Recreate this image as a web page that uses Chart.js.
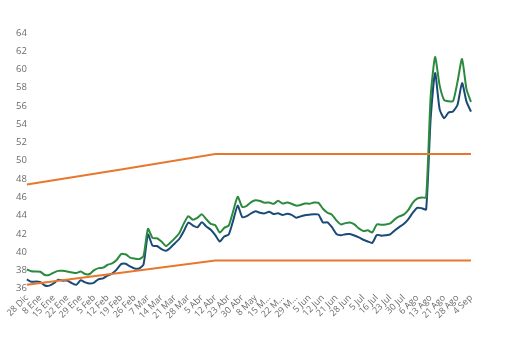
<!DOCTYPE html>
<html>
<head>
<meta charset="utf-8">
<script src="https://cdn.jsdelivr.net/npm/chart.js@4"></script>
<style>
    html, body { margin: 0; padding: 0; background: #fff; }
    #grafico { width: 516px; height: 341px; }
</style>
</head>
<body>
<div id="grafico">
    <canvas id="myChartCanvas"></canvas>
</div>
<script>
    // etiquetas del eje x (una cada 3 puntos)
    const etiquetas = ['28 Dic', '8 Ene', '15 Ene', '22 Ene', '29 Ene', '5 Feb', '12 Feb', '19 Feb', '26 Feb',
        '7 Mar', '14 Mar', '21 Mar', '28 Mar', '5 Abr', '12 Abr', '23 Abr', '30 Abr', '8 May', '15 M...',
        '22 M...', '29 M...', '5 Jun', '12 Jun', '21 Jun', '28 Jun', '5 Jul', '16 Jul', '23 Jul', '30 Jul',
        '6 Ago', '13 Ago', '21 Ago', '28 Ago', '4 Sep'];

    const pasoEtiqueta = 3;

    // serie verde (superior)
    const serieVerde = [
        38.11, 37.90, 37.87, 37.84, 37.49, 37.49, 37.75, 37.94, 37.94, 37.87,
        37.77, 37.70, 37.87, 37.59, 37.60, 38.03, 38.24, 38.29, 38.61, 38.76,
        39.13, 39.78, 39.76, 39.40, 39.29, 39.23, 39.57, 42.55, 41.56, 41.51,
        41.15, 40.66, 41.05, 41.53, 42.09, 43.14, 43.93, 43.54, 43.75, 44.13,
        43.59, 43.08, 42.93, 42.14, 42.65, 42.90, 44.50, 46.06, 44.95, 45.07,
        45.48, 45.68, 45.59, 45.40, 45.44, 45.28, 45.61, 45.31, 45.42, 45.29,
        45.09, 45.16, 45.33, 45.30, 45.43, 45.39, 44.75, 44.31, 44.10, 43.47,
        43.03, 43.17, 43.23, 43.03, 42.59, 42.31, 42.38, 42.15, 43.03, 42.99,
        43.03, 43.14, 43.58, 43.90, 44.10, 44.59, 45.38, 45.85, 45.97, 46.00,
        56.97, 61.36, 58.29, 56.67, 56.53, 56.53, 58.67, 61.15, 57.82, 56.46
    ];

    // serie azul (inferior)
    const serieAzul = [
        37.00, 36.74, 36.77, 36.71, 36.34, 36.32, 36.58, 36.96, 36.87, 36.87,
        36.60, 36.41, 36.92, 36.68, 36.55, 36.66, 37.04, 37.12, 37.43, 37.64,
        38.08, 38.68, 38.71, 38.42, 38.20, 38.20, 38.64, 41.93, 40.71, 40.66,
        40.32, 40.14, 40.48, 40.97, 41.46, 42.30, 43.24, 42.91, 42.71, 43.26,
        42.80, 42.45, 41.86, 41.16, 41.71, 41.93, 43.47, 45.09, 43.83, 43.94,
        44.24, 44.46, 44.30, 44.24, 44.41, 44.16, 44.26, 44.06, 44.20, 44.08,
        43.77, 43.91, 44.04, 44.10, 44.15, 44.11, 43.25, 43.25, 42.72, 41.98,
        41.84, 41.96, 41.98, 41.82, 41.60, 41.35, 41.16, 41.00, 41.86, 41.80,
        41.84, 41.93, 42.37, 42.73, 43.07, 43.58, 44.29, 44.85, 44.81, 44.67,
        54.56, 59.61, 55.66, 54.67, 55.29, 55.41, 56.14, 58.51, 56.48, 55.38
    ];

    // bandas naranjas: [indice del punto, valor]
    const bandaSuperior = [[0, 47.40], [21, 49.05], [42, 50.75], [99, 50.75]];
    const bandaInferior = [[0, 36.41], [21, 37.73], [42, 39.07], [99, 39.07]];

    // ticks del eje y
    const ejeYMin = 36;
    const ejeYMax = 64;
    const ejeYPaso = 2;

    function armarBanda(puntos, total) {
        let datos = [];
        for (let i = 0; i < total; i++) datos.push(null);
        puntos.forEach(p => datos[p[0]] = p[1]);
        return datos;
    }

    function plotarGrafico() {
        let total = serieVerde.length;
        let categorias = [];
        for (let i = 0; i < total; i++) {
            categorias.push(i % pasoEtiqueta == 0 ? etiquetas[i / pasoEtiqueta] : '');
        }

        const naranja = '#e8772e';
        const fuente = { family: 'Open Sans', size: 9.5 };

        const config = {
            type: 'line',
            data: {
                labels: categorias,
                datasets: [
                    { data: armarBanda(bandaSuperior, total), borderColor: naranja, spanGaps: true },
                    { data: armarBanda(bandaInferior, total), borderColor: naranja, spanGaps: true },
                    { data: serieVerde, borderColor: '#2b8a3e', tension: 0.2 },
                    { data: serieAzul, borderColor: '#1b4a78', tension: 0.2 }
                ]
            },
            options: {
                responsive: true,
                maintainAspectRatio: false,
                animation: false,
                layout: { padding: { left: 16, right: 45, top: 33, bottom: 16 } },
                elements: {
                    point: { radius: 0 },
                    line: { borderWidth: 2 }
                },
                plugins: {
                    legend: { display: false },
                    tooltip: { enabled: false }
                },
                scales: {
                    x: {
                        grid: { display: false, drawTicks: false },
                        border: { display: false },
                        ticks: {
                            autoSkip: false,
                            minRotation: 45,
                            maxRotation: 45,
                            padding: 4,
                            color: '#6b6b6b',
                            font: { family: 'Open Sans', size: 9 }
                        }
                    },
                    y: {
                        min: ejeYMin,
                        max: ejeYMax,
                        grid: { display: false, drawTicks: false },
                        border: { display: false },
                        ticks: { stepSize: ejeYPaso, padding: 0, color: '#6b6b6b', font: fuente }
                    }
                }
            }
        };

        let myChart = new Chart(document.getElementById('myChartCanvas'), config);
    }

    window.onload = plotarGrafico;
</script>
</body>
</html>
